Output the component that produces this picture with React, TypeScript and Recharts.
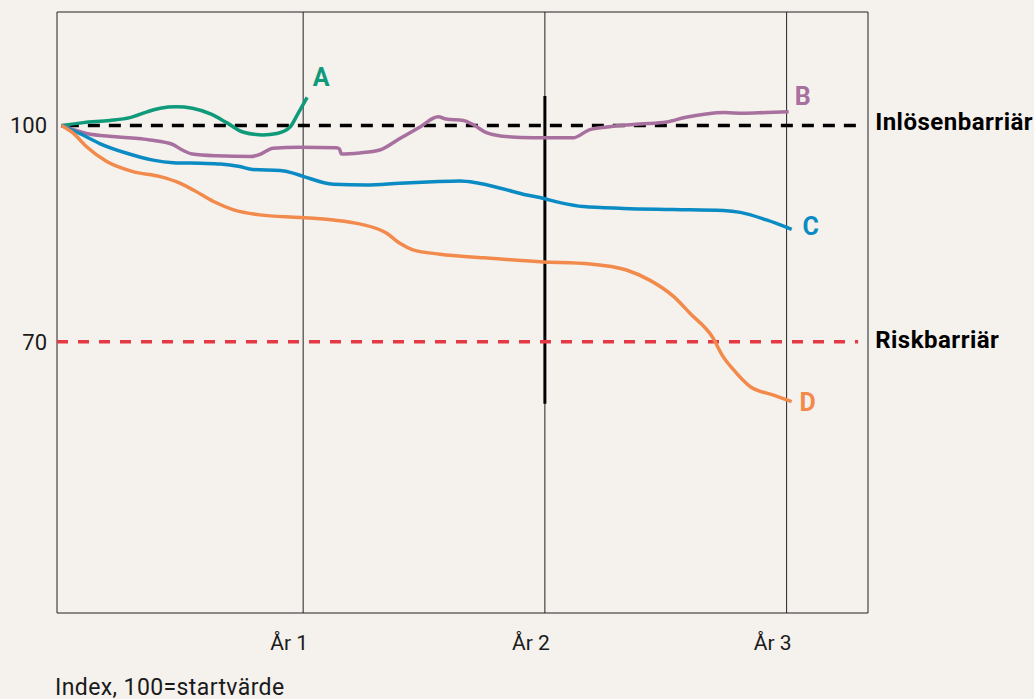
import React from "react";
import { LineChart, Line, XAxis, YAxis, ReferenceLine, ReferenceArea } from "recharts";

// time in months from start, value as index (100 = start value)
const monthsA = [0, 1.1, 2.4, 3.4, 4.25, 4.9, 5.7, 6.5, 7.4, 8.2, 9.0, 10.0, 10.7, 11.35, 11.75, 12.2];
const valuesA = [100, 100.4, 100.7, 101.1, 101.9, 102.4, 102.6, 102.4, 101.6, 100.4, 99.1, 98.7, 98.9, 99.8, 101.7, 103.9];

const monthsB = [0, 1.25, 2.7, 4.4, 5.5, 6.0, 6.5, 7.7, 9.4, 9.9, 10.5, 11.8, 13.65, 13.8, 13.9, 14.8, 15.8, 16.8, 17.8, 18.7, 19.1, 19.95, 20.45, 21.1, 21.8, 23.4, 25.4, 26.2, 27.1, 28.7, 30.05, 31.0, 32.0, 32.9, 33.85, 35.0, 36.1];
const valuesB = [100, 98.9, 98.45, 98.0, 97.4, 96.6, 96.05, 95.8, 95.7, 96.05, 96.85, 97.0, 96.9, 96.75, 96.05, 96.2, 96.6, 98.2, 99.8, 101.2, 100.9, 100.7, 100.1, 99.0, 98.55, 98.3, 98.3, 99.4, 99.8, 100.2, 100.5, 101.15, 101.6, 101.8, 101.7, 101.8, 101.9];

const monthsC = [0, 0.9, 1.9, 3.25, 4.55, 5.55, 6.9, 7.9, 8.85, 9.5, 10.85, 11.5, 12.0, 13.5, 15.15, 16.8, 18.45, 19.8, 20.6, 21.8, 23.1, 23.75, 24.75, 25.9, 27.9, 30.4, 32.85, 33.7, 35.0, 36.25];
const valuesC = [100, 98.9, 97.5, 96.15, 95.2, 94.85, 94.75, 94.65, 94.3, 93.9, 93.75, 93.4, 92.95, 91.85, 91.75, 92.0, 92.2, 92.3, 92.05, 91.3, 90.35, 90.0, 89.3, 88.75, 88.5, 88.35, 88.2, 87.95, 86.9, 85.6];

const monthsD = [0, 0.6, 1.25, 2.25, 3.55, 4.9, 5.7, 6.55, 7.55, 8.55, 9.85, 11.85, 13.5, 14.8, 16.15, 16.8, 17.45, 18.8, 20.95, 23.75, 26.25, 28.05, 29.2, 30.4, 31.2, 32.35, 32.8, 33.35, 34.2, 35.35, 36.25];
const valuesD = [100, 98.9, 97.05, 95.0, 93.6, 92.9, 92.2, 91.05, 89.45, 88.3, 87.6, 87.25, 86.9, 86.35, 85.05, 83.65, 82.75, 82.15, 81.65, 81.1, 80.8, 79.95, 78.55, 76.25, 73.95, 70.5, 68.15, 66.15, 63.75, 62.6, 61.7];

const yearTicks = [12, 24, 36];
const yearLabels = ["År 1", "År 2", "År 3"];
const valueTicks = [70, 100];
const redemptionBarrier = 100;
const riskBarrier = 70;

const toPoints = (months: number[], values: number[]) =>
  months.map((t, i) => ({ t, v: values[i] }));

const series = [
  { name: "A", data: toPoints(monthsA, valuesA), color: "#0f9a7a", dx: 14, dy: -20 },
  { name: "B", data: toPoints(monthsB, valuesB), color: "#a7709f", dx: 14, dy: -16 },
  { name: "C", data: toPoints(monthsC, valuesC), color: "#0a8bc4", dx: 19, dy: -3 },
  { name: "D", data: toPoints(monthsD, valuesD), color: "#f28a4c", dx: 16, dy: 0 },
];

const font = "Roboto, 'Noto Sans', sans-serif";
const ink = "#1a1a1a";
const bg = "#f5f1ed";
const xDomain: [number, number] = [-0.22, 40.04];
const yDomain: [number, number] = [32.36, 115.75];

const barrierLabel = { position: "right" as const, offset: 17, fill: "#000", fontSize: 24, fontWeight: 700, fontFamily: font, letterSpacing: 0.5 };

export default function App() {
  return (
    <div style={{ position: "absolute", left: 0, top: 0, width: 1034, height: 699, background: bg, fontFamily: font }}>
      <LineChart width={1034} height={699} margin={{ top: 12, right: 166, bottom: 46, left: 0 }}>
        <XAxis
          type="number"
          dataKey="t"
          domain={xDomain}
          ticks={yearTicks}
          tickFormatter={(t: number) => yearLabels[yearTicks.indexOf(t)]}
          axisLine={false}
          tickLine={false}
          tickSize={0}
          tickMargin={22}
          height={40}
          allowDataOverflow
          tick={{ fill: ink, fontSize: 21, fontFamily: font, dx: -14 }}
        />
        <YAxis
          type="number"
          domain={yDomain}
          ticks={valueTicks}
          axisLine={false}
          tickLine={false}
          tickSize={0}
          tickMargin={10}
          width={57}
          allowDataOverflow
          tick={{ fill: ink, fontSize: 22, fontFamily: font }}
        />
        <ReferenceArea x1={xDomain[0]} x2={xDomain[1]} y1={yDomain[0]} y2={yDomain[1]} fill="none" stroke="#222" strokeWidth={1} />
        {yearTicks.map((t) => (
          <ReferenceLine key={t} x={t} stroke="#222" strokeWidth={1} />
        ))}
        <ReferenceLine segment={[{ x: 24, y: 104.1 }, { x: 24, y: 61.4 }]} stroke="#000" strokeWidth={3} />
        <ReferenceLine
          segment={[{ x: 0.27, y: redemptionBarrier }, { x: 39.55, y: redemptionBarrier }]}
          stroke="#000"
          strokeWidth={3.5}
          strokeDasharray="12 9"
          label={{ ...barrierLabel, value: "Inlösenbarriär", dy: -4 }}
        />
        <ReferenceLine
          segment={[{ x: xDomain[0], y: riskBarrier }, { x: 39.55, y: riskBarrier }]}
          stroke="#e63946"
          strokeWidth={3.5}
          strokeDasharray="11 10"
          label={{ ...barrierLabel, value: "Riskbarriär", dy: -2 }}
        />
        {series.map((s) => (
          <Line
            key={s.name}
            data={s.data}
            dataKey="v"
            type="monotone"
            stroke={s.color}
            strokeWidth={3.5}
            dot={false}
            isAnimationActive={false}
            label={(p: any) =>
              p.index === s.data.length - 1 ? (
                <text
                  key={s.name}
                  x={p.x + s.dx}
                  y={p.y + s.dy}
                  dy="0.36em"
                  textAnchor="middle"
                  fill={s.color}
                  fontSize={25}
                  fontWeight={700}
                  fontFamily={font}
                >
                  {s.name}
                </text>
              ) : (
                <g key={p.index} />
              )
            }
          />
        ))}
      </LineChart>
      <div style={{ position: "absolute", left: 55, top: 676, fontSize: 23, lineHeight: "24px", letterSpacing: 0.4, color: ink }}>
        Index, 100=startvärde
      </div>
    </div>
  );
}
